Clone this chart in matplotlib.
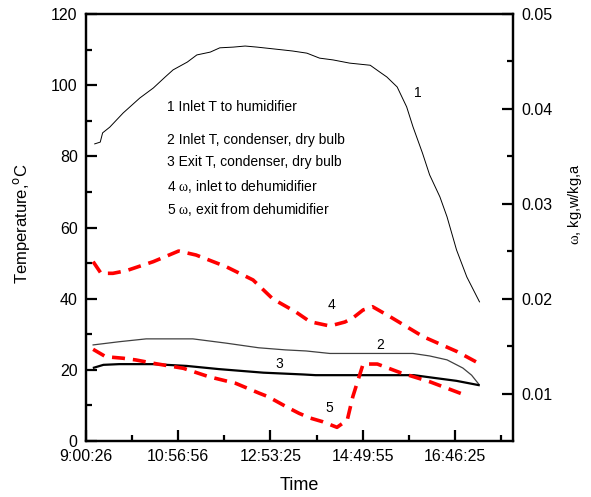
import matplotlib
matplotlib.use('Agg')
import matplotlib.pyplot as plt
from matplotlib.ticker import MultipleLocator, FixedLocator

plt.rcParams['font.family'] = ['Liberation Sans', 'DejaVu Sans']
plt.rcParams['mathtext.fontset'] = 'custom'
plt.rcParams['mathtext.rm'] = 'Liberation Serif'

# time axis: minutes after 9:00:26
tick_min = [0, 116.5, 233, 349.5, 466]
tick_lab = ['9:00:26', '10:56:56', '12:53:25', '14:49:55', '16:46:25']

# 1 inlet T to humidifier
t1 = [11, 18, 21, 30, 47, 68, 85, 100, 110, 128, 140, 157, 169, 186, 201, 216,
      249, 261, 279, 295, 312, 333, 359, 371, 380, 393, 405, 413, 425, 434,
      447, 456, 468, 481, 497]
T1 = [83.5, 84.0, 86.6, 88.2, 92.2, 96.4, 99.2, 102.3, 104.3, 106.5, 108.5,
      109.3, 110.5, 110.7, 111.0, 110.7, 109.9, 109.6, 109.0, 107.6, 107.1,
      106.2, 105.6, 103.7, 102.3, 99.5, 93.9, 88.3, 80.9, 74.8, 68.6, 63.0,
      53.7, 46.1, 39.1]

# 2 inlet T, condenser
t2 = [9, 42, 76, 135, 177, 218, 252, 278, 308, 413, 434, 456, 476, 487, 496]
T2 = [27.0, 27.9, 28.7, 28.7, 27.5, 26.2, 25.6, 25.3, 24.6, 24.6, 23.9, 22.8,
      20.5, 18.5, 16.0]

# 3 exit T, condenser
t3 = [10, 22, 42, 85, 127, 168, 224, 274, 290, 414, 434, 468, 496]
T3 = [20.6, 21.4, 21.6, 21.6, 21.1, 20.2, 19.2, 18.7, 18.5, 18.5, 17.9, 16.9,
      15.7]

# 4 omega inlet to dehumidifier
t4 = [9, 19, 34, 51, 85, 117, 139, 177, 211, 236, 265, 283, 308, 327, 337,
      350, 362, 384, 426, 469, 496]
w4 = [0.0239, 0.02267, 0.02267, 0.02295, 0.0239, 0.02502, 0.0246, 0.02337,
      0.02197, 0.01997, 0.0186, 0.01757, 0.01712, 0.01754, 0.01796, 0.01881,
      0.01915, 0.0181, 0.01599, 0.01441, 0.01319]

# 5 omega exit from dehumidifier
t5 = [9, 25, 47, 63, 85, 123, 155, 189, 219, 230, 253, 269, 283, 299, 317,
      330, 337, 350, 368, 397, 434, 482]
w5 = [0.01466, 0.01388, 0.01372, 0.01354, 0.01319, 0.01266, 0.01178, 0.01108,
      0.01003, 0.00967, 0.00861, 0.00792, 0.00742, 0.00703, 0.00644, 0.00721,
      0.00967, 0.01311, 0.01311, 0.0122, 0.01125, 0.00974]

fig = plt.figure(figsize=(5.91, 4.97), dpi=100)
ax = fig.add_axes([0.1455, 0.1127, 0.7225, 0.8591])
ax2 = ax.twinx()

ax.plot(t1, T1, color='black', lw=0.7)
ax.plot(t2, T2, color='#404040', lw=0.9)
ax.plot(t3, T3, color='black', lw=1.6)
ax2.plot(t4, w4, color='red', lw=2.6, dashes=(3.6, 2.2))
ax2.plot(t5, w5, color='red', lw=2.6, dashes=(3.6, 2.2))

ax.set_xlim(0, 539.3)
ax.set_ylim(0, 120)
ax2.set_ylim(0.005, 0.05)

ax.xaxis.set_major_locator(FixedLocator(tick_min))
ax.set_xticklabels(tick_lab)
ax.xaxis.set_minor_locator(MultipleLocator(58.25))
ax.yaxis.set_major_locator(MultipleLocator(20))
ax.yaxis.set_minor_locator(MultipleLocator(10))
ax2.yaxis.set_major_locator(FixedLocator([0.01, 0.02, 0.03, 0.04, 0.05]))
ax2.set_yticklabels(['0.01', '0.02', '0.03', '0.04', '0.05'])
ax2.yaxis.set_minor_locator(FixedLocator([0.015, 0.025, 0.035, 0.045]))

for a in (ax, ax2):
    for s in a.spines.values():
        s.set_linewidth(1.6)
    a.tick_params(which='major', direction='in', length=8, width=1.6,
                  labelsize=11.5)
    a.tick_params(which='minor', direction='in', length=4.5, width=1.6)
ax.tick_params(axis='x', pad=6)
ax.tick_params(axis='y', pad=6)
ax2.tick_params(axis='y', pad=6)

ax.set_xlabel('Time', fontsize=13)
ax.xaxis.set_label_coords(0.5, -0.084)
ax.set_ylabel('Temperature,$^\\mathsf{o}$C', fontsize=12)
ax.yaxis.set_label_coords(-0.126, 0.51)
ax2.set_ylabel('$\\mathrm{\\omega}$, kg,w/kg,a', fontsize=10.5, rotation=90)
ax2.yaxis.set_label_coords(1.125, 0.555)

notes = ['1 Inlet T to humidifier',
         '2 Inlet T, condenser, dry bulb',
         '3 Exit T, condenser, dry bulb',
         '4 $\\mathrm{\\omega}$, inlet to dehumidifier',
         '5 $\\mathrm{\\omega}$, exit from dehumidifier']
note_y = [0.782, 0.705, 0.653, 0.597, 0.543]
for s, y in zip(notes, note_y):
    ax.text(0.19, y, s, transform=ax.transAxes, fontsize=10, va='center')

nums = ['1', '2', '3', '4', '5']
num_x = [0.778, 0.689, 0.452, 0.576, 0.569]
num_y = [0.815, 0.225, 0.180, 0.318, 0.077]
for s, x, y in zip(nums, num_x, num_y):
    ax.text(x, y, s, transform=ax.transAxes, fontsize=10, ha='center',
            va='center')

fig.savefig('out.png', dpi=100)
